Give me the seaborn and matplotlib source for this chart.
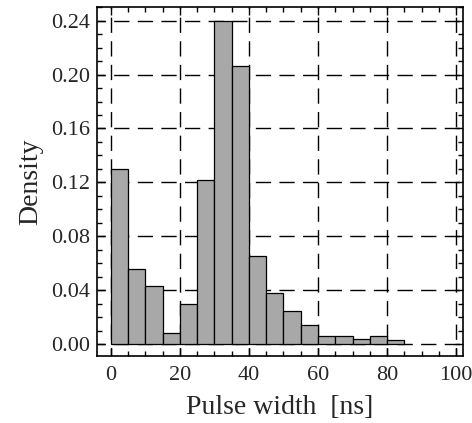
import numpy as np
import matplotlib
matplotlib.use('Agg')
import matplotlib.pyplot as plt
from matplotlib.ticker import MultipleLocator, FormatStrFormatter
import seaborn as sns

# Histogram: bin edges (ns) and density per bin
bin_edges = [0, 5, 10, 15, 20, 25, 30, 35, 40, 45, 50, 55, 60, 65, 70, 75, 80, 85]
density = [0.130, 0.056, 0.043, 0.008, 0.030, 0.122, 0.240, 0.206, 0.065,
           0.038, 0.0245, 0.014, 0.0062, 0.0062, 0.0035, 0.0062, 0.003]
bin_centers = [(a + b) / 2 for a, b in zip(bin_edges[:-1], bin_edges[1:])]

x_label = 'Pulse width  [ns]'
y_label = 'Density'

sns.set_style('ticks')
plt.rcParams['font.family'] = ['Liberation Serif', 'DejaVu Serif']

fig = plt.figure(figsize=(4.72, 4.23), dpi=100)
ax = fig.add_axes([0.2055, 0.158, 0.7755, 0.825])

sns.histplot(x=bin_centers, weights=density, bins=bin_edges, stat='count',
             color='#a8a8a8', edgecolor='black', linewidth=0.9, alpha=1.0,
             ax=ax, zorder=2)

ax.set_xlim(-4, 102)
ax.set_ylim(-0.009, 0.25)

ax.xaxis.set_major_locator(MultipleLocator(20))
ax.xaxis.set_minor_locator(MultipleLocator(5))
ax.yaxis.set_major_locator(MultipleLocator(0.04))
ax.yaxis.set_minor_locator(MultipleLocator(0.01))
ax.yaxis.set_major_formatter(FormatStrFormatter('%.2f'))

ax.grid(True, which='major', color='black', linewidth=1.0,
        linestyle=(5, (11, 6)), zorder=0)
ax.set_axisbelow(True)

ax.tick_params(which='both', direction='in', top=True, right=True,
               labelsize=16, color='black', width=1.0)
ax.tick_params(which='major', length=6, pad=5)
ax.tick_params(axis='x', which='major', pad=7)
ax.tick_params(which='minor', length=3.5)
for s in ax.spines.values():
    s.set_linewidth(1.2)
    s.set_color('black')

ax.set_xlabel(x_label, fontsize=20, labelpad=7)
ax.set_ylabel(y_label, fontsize=20, labelpad=6)

fig.savefig('out.png', dpi=100)
